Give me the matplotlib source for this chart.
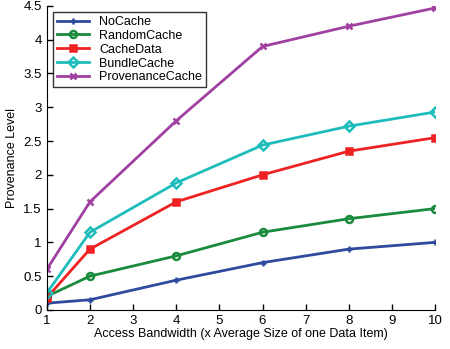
import matplotlib
matplotlib.use("Agg")
import matplotlib.pyplot as plt

x = [1, 2, 4, 6, 8, 10]
no_cache = [0.1, 0.15, 0.44, 0.7, 0.9, 1.0]
random_cache = [0.2, 0.5, 0.8, 1.15, 1.35, 1.5]
cache_data = [0.18, 0.9, 1.6, 2.0, 2.35, 2.55]
bundle_cache = [0.25, 1.15, 1.88, 2.44, 2.72, 2.93]
prov_cache = [0.6, 1.6, 2.8, 3.9, 4.2, 4.47]

series = [
    ("NoCache", no_cache, "#2e4a9e", "+", dict()),
    ("RandomCache", random_cache, "#1a8a3c", "o", dict(markerfacecolor="none")),
    ("CacheData", cache_data, "#ee2222", "s", dict()),
    ("BundleCache", bundle_cache, "#1fbcbc", "D", dict(markerfacecolor="none")),
    ("ProvenanceCache", prov_cache, "#a040a0", "x", dict()),
]

plt.rcParams['font.family'] = ['Liberation Sans', 'DejaVu Sans']
fig = plt.figure(figsize=(4.5, 3.49), dpi=100)
ax = fig.add_axes([0.104, 0.112, 0.863, 0.871])
for name, y, c, m, kw in series:
    ax.plot(x, y, color=c, marker=m, lw=2, ms=5, mew=1.8, label=name, **kw)

ax.set_xlim(1, 10)
ax.set_ylim(0, 4.5)
ax.set_xticks(range(1, 11))
ax.set_yticks([0, 0.5, 1, 1.5, 2, 2.5, 3, 3.5, 4, 4.5])
ax.set_yticklabels(["0", "0.5", "1", "1.5", "2", "2.5", "3", "3.5", "4", "4.5"])
ax.tick_params(direction="in", labelsize=9.5, length=4, width=1)
ax.spines["top"].set_visible(False)
ax.spines["right"].set_visible(False)
ax.set_xlabel("Access Bandwidth (x Average Size of one Data Item)", fontsize=9, labelpad=1)
ax.set_ylabel("Provenance Level", fontsize=9)
leg = ax.legend(loc="upper left", fontsize=9, frameon=True, fancybox=False,
                edgecolor="black", borderpad=0.3, labelspacing=0.15, handlelength=2.6,
                borderaxespad=0.5)
leg.get_frame().set_linewidth(1)
fig.savefig("out.png", dpi=100)
